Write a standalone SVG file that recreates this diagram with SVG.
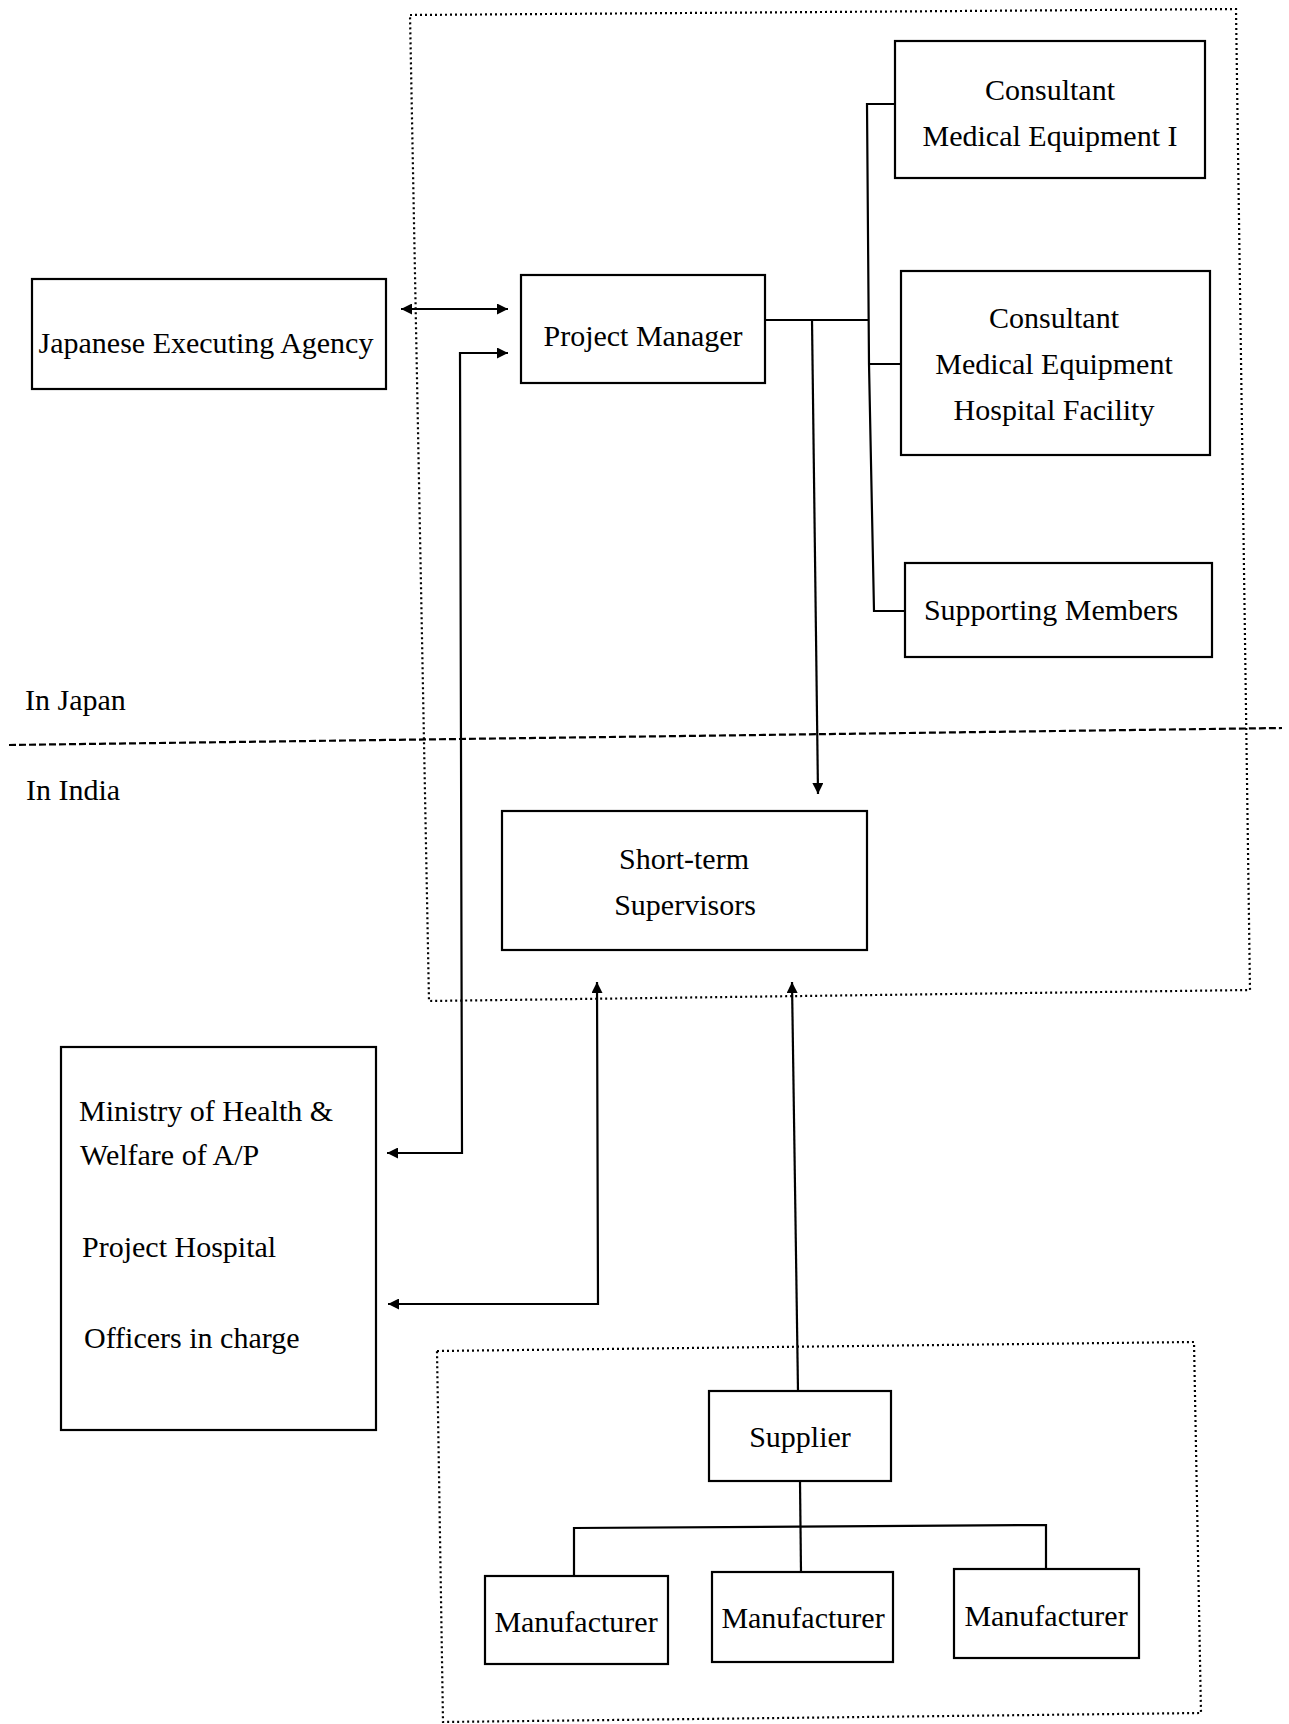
<svg xmlns="http://www.w3.org/2000/svg" width="1289" height="1724" viewBox="0 0 1289 1724">
<style>
.box{fill:#fff;stroke:#000;stroke-width:2.2}
.t{font-family:"Liberation Serif","Times New Roman",serif;font-size:30px;fill:#000}
.c{text-anchor:middle}
.ln{fill:none;stroke:#000;stroke-width:2.2}
.dot{fill:none;stroke:#000;stroke-width:2.2;stroke-dasharray:2,3}
.dash{fill:none;stroke:#000;stroke-width:2.2;stroke-dasharray:7,3}
</style>
<defs>
<marker id="ah" viewBox="0 0 10 10" refX="10" refY="5" markerWidth="14" markerHeight="11" markerUnits="userSpaceOnUse" orient="auto-start-reverse">
<path d="M0,0 L10,5 L0,10 z" fill="#000"/>
</marker>
</defs>
<rect width="1289" height="1724" fill="#fff"/>
<g id="regions">
<polygon class="dot" points="410,15 1236,9 1250,990 429,1001"/>
<polygon class="dot" points="437,1351 1194,1342 1201,1713 443,1722"/>
<line class="dash" x1="9" y1="745" x2="1282" y2="728"/>
<text class="t" x="25" y="710">In Japan</text>
<text class="t" x="26" y="800">In India</text>
</g>
<g id="connectors">
<line class="ln" x1="401" y1="309" x2="508" y2="309" marker-start="url(#ah)" marker-end="url(#ah)"/>
<polyline class="ln" points="508,353 460,353 462,1153 387,1153" marker-start="url(#ah)" marker-end="url(#ah)"/>
<polyline class="ln" points="597,982 598,1304 388,1304" marker-start="url(#ah)" marker-end="url(#ah)"/>
<polyline class="ln" points="765,320 869,320"/>
<polyline class="ln" points="896,104 867,104 869,364 874,611 905,611"/>
<line class="ln" x1="869" y1="364" x2="902" y2="364"/>
<line class="ln" x1="812" y1="320" x2="818" y2="794" marker-end="url(#ah)"/>
<line class="ln" x1="798" y1="1391" x2="792" y2="982" marker-end="url(#ah)"/>
<line class="ln" x1="800" y1="1481" x2="801" y2="1572"/>
<polyline class="ln" points="574,1576 574,1528 1046,1525 1046,1569"/>
</g>
<g id="japanese-executing-agency">
<rect class="box" x="32" y="279" width="354" height="110"/>
<text class="t c" x="206" y="353">Japanese Executing Agency</text>
</g>
<g id="project-manager">
<rect class="box" x="521" y="275" width="244" height="108"/>
<text class="t c" x="643" y="346">Project Manager</text>
</g>
<g id="consultant-1">
<rect class="box" x="895" y="41" width="310" height="137"/>
<text class="t c" x="1050" y="100">Consultant</text>
<text class="t c" x="1050" y="146">Medical Equipment I</text>
</g>
<g id="consultant-2">
<rect class="box" x="901" y="271" width="309" height="184"/>
<text class="t c" x="1054" y="328">Consultant</text>
<text class="t c" x="1054" y="374">Medical Equipment</text>
<text class="t c" x="1054" y="420">Hospital Facility</text>
</g>
<g id="supporting-members">
<rect class="box" x="905" y="563" width="307" height="94"/>
<text class="t c" x="1051" y="620">Supporting Members</text>
</g>
<g id="short-term-supervisors">
<rect class="box" x="502" y="811" width="365" height="139"/>
<text class="t c" x="684" y="869">Short-term</text>
<text class="t c" x="685" y="915">Supervisors</text>
</g>
<g id="ministry">
<rect class="box" x="61" y="1047" width="315" height="383"/>
<text class="t" x="79" y="1121">Ministry of Health &amp;</text>
<text class="t" x="80" y="1165">Welfare of A/P</text>
<text class="t" x="82" y="1257">Project Hospital</text>
<text class="t" x="84" y="1348">Officers in charge</text>
</g>
<g id="supplier">
<rect class="box" x="709" y="1391" width="182" height="90"/>
<text class="t c" x="800" y="1447">Supplier</text>
</g>
<g id="manufacturer-1">
<rect class="box" x="485" y="1576" width="183" height="88"/>
<text class="t c" x="576" y="1632">Manufacturer</text>
</g>
<g id="manufacturer-2">
<rect class="box" x="712" y="1572" width="181" height="90"/>
<text class="t c" x="803" y="1628">Manufacturer</text>
</g>
<g id="manufacturer-3">
<rect class="box" x="954" y="1569" width="185" height="89"/>
<text class="t c" x="1046" y="1626">Manufacturer</text>
</g>
</svg>
